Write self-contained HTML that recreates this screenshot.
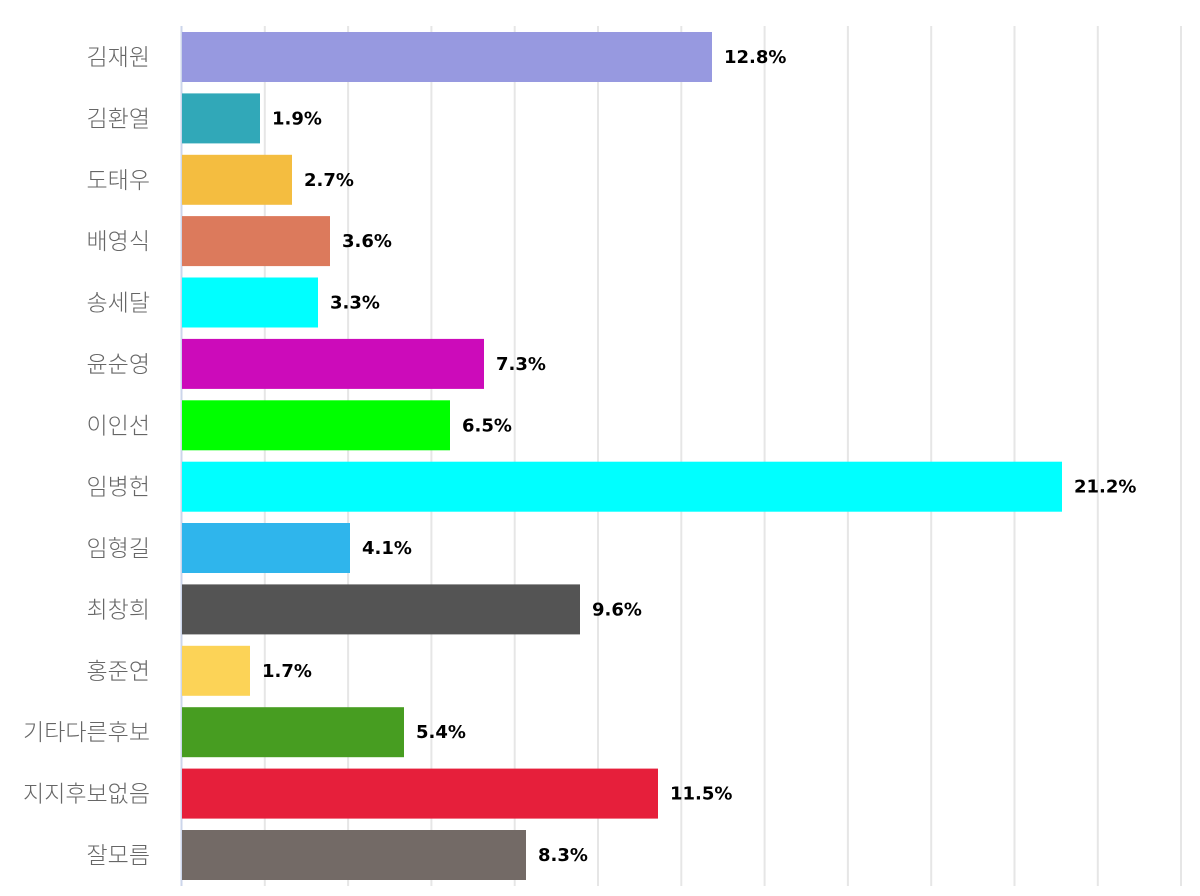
<!DOCTYPE html>
<html><head><meta charset="utf-8"><style>
html,body{margin:0;padding:0;background:#fff;}
svg{display:block;}
.c{font-family:"Noto Sans CJK KR",sans-serif;font-size:23px;font-weight:300;fill:#666;}
.v{font-family:"DejaVu Sans",sans-serif;font-size:18px;font-weight:bold;fill:#000;}
</style></head><body>
<svg width="1200" height="896" xmlns="http://www.w3.org/2000/svg">
<g stroke="#e6e6e6" stroke-width="2">
<line x1="264.8" y1="26" x2="264.8" y2="886"/><line x1="348.1" y1="26" x2="348.1" y2="886"/><line x1="431.4" y1="26" x2="431.4" y2="886"/><line x1="514.7" y1="26" x2="514.7" y2="886"/><line x1="598" y1="26" x2="598" y2="886"/><line x1="681.3" y1="26" x2="681.3" y2="886"/><line x1="764.6" y1="26" x2="764.6" y2="886"/><line x1="847.9" y1="26" x2="847.9" y2="886"/><line x1="931.2" y1="26" x2="931.2" y2="886"/><line x1="1014.5" y1="26" x2="1014.5" y2="886"/><line x1="1097.8" y1="26" x2="1097.8" y2="886"/><line x1="1181" y1="26" x2="1181" y2="886"/>
</g>
<line x1="181.5" y1="26" x2="181.5" y2="886" stroke="#ccd6eb" stroke-width="2"/>
<g>
<rect x="182" y="32" width="530" height="50" fill="#9799e0"/><text class="c" x="150" y="65" text-anchor="end">김재원</text><text class="v" x="724" y="63">12.8%</text>
<rect x="182" y="93.4" width="78" height="50" fill="#31a8b8"/><text class="c" x="150" y="126.4" text-anchor="end">김환열</text><text class="v" x="272" y="124.4">1.9%</text>
<rect x="182" y="154.8" width="110" height="50" fill="#f4bd40"/><text class="c" x="150" y="187.8" text-anchor="end">도태우</text><text class="v" x="304" y="185.8">2.7%</text>
<rect x="182" y="216.1" width="148" height="50" fill="#dc7a5c"/><text class="c" x="150" y="249.1" text-anchor="end">배영식</text><text class="v" x="342" y="247.1">3.6%</text>
<rect x="182" y="277.5" width="136" height="50" fill="#00ffff"/><text class="c" x="150" y="310.5" text-anchor="end">송세달</text><text class="v" x="330" y="308.5">3.3%</text>
<rect x="182" y="338.9" width="302" height="50" fill="#cc0bba"/><text class="c" x="150" y="371.9" text-anchor="end">윤순영</text><text class="v" x="496" y="369.9">7.3%</text>
<rect x="182" y="400.3" width="268" height="50" fill="#00ff00"/><text class="c" x="150" y="433.3" text-anchor="end">이인선</text><text class="v" x="462" y="431.3">6.5%</text>
<rect x="182" y="461.7" width="880" height="50" fill="#00ffff"/><text class="c" x="150" y="494.7" text-anchor="end">임병헌</text><text class="v" x="1074" y="492.7">21.2%</text>
<rect x="182" y="523" width="168" height="50" fill="#2fb5ec"/><text class="c" x="150" y="556" text-anchor="end">임형길</text><text class="v" x="362" y="554">4.1%</text>
<rect x="182" y="584.4" width="398" height="50" fill="#545454"/><text class="c" x="150" y="617.4" text-anchor="end">최창희</text><text class="v" x="592" y="615.4">9.6%</text>
<rect x="182" y="645.8" width="68" height="50" fill="#fcd357"/><text class="c" x="150" y="678.8" text-anchor="end">홍준연</text><text class="v" x="262" y="676.8">1.7%</text>
<rect x="182" y="707.2" width="222" height="50" fill="#479d21"/><text class="c" x="150" y="740.2" text-anchor="end">기타다른후보</text><text class="v" x="416" y="738.2">5.4%</text>
<rect x="182" y="768.6" width="476" height="50" fill="#e61f3b"/><text class="c" x="150" y="801.6" text-anchor="end">지지후보없음</text><text class="v" x="670" y="799.6">11.5%</text>
<rect x="182" y="830" width="344" height="50" fill="#736a66"/><text class="c" x="150" y="863" text-anchor="end">잘모름</text><text class="v" x="538" y="861">8.3%</text>
</g>
</svg>
</body></html>
